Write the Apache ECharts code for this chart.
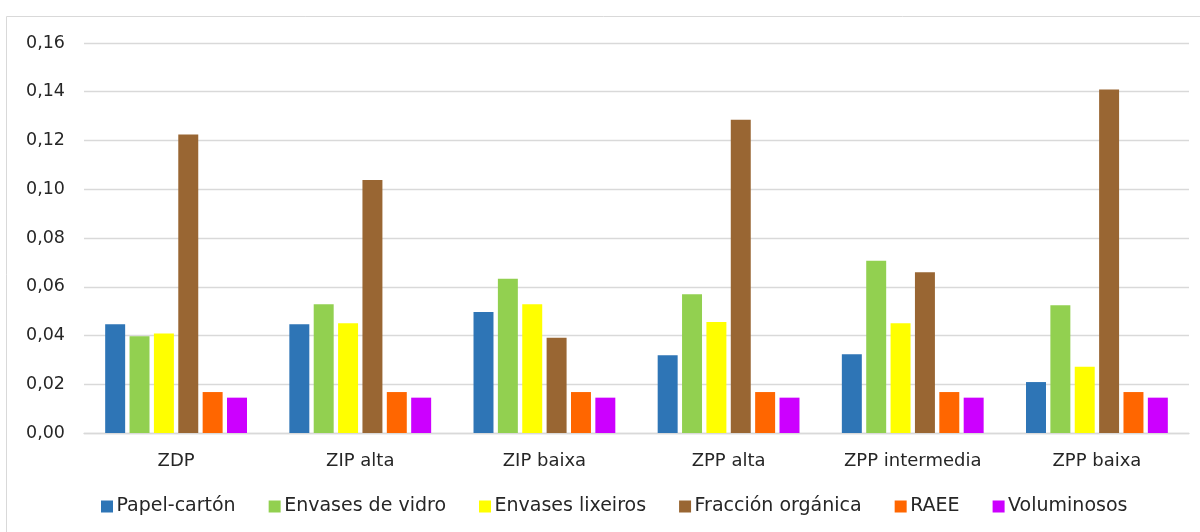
<!DOCTYPE html>
<html>
<head>
<meta charset="utf-8">
<script src="https://cdn.jsdelivr.net/npm/echarts@6/dist/echarts.min.js"></script>
<style>
  html, body { margin: 0; padding: 0; background: #fff; }
  #main { width: 1200px; height: 532px; }
</style>
</head>
<body>
<div id="main"></div>
<script>
// categorías (zonas)
var zonas = ["ZDP", "ZIP alta", "ZIP baixa", "ZPP alta", "ZPP intermedia", "ZPP baixa"];

// valores por fracción
var papelCarton = [0.0446, 0.0446, 0.0496, 0.0319, 0.0323, 0.0209];
var envasesVidro = [0.0397, 0.0528, 0.0633, 0.0569, 0.0707, 0.0524];
var envasesLixeiros = [0.0408, 0.0450, 0.0528, 0.0455, 0.0450, 0.0272];
var fraccionOrganica = [0.1225, 0.1038, 0.0391, 0.1285, 0.0660, 0.1409];
var raee = [0.0168, 0.0168, 0.0168, 0.0168, 0.0168, 0.0168];
var voluminosos = [0.0145, 0.0145, 0.0145, 0.0145, 0.0145, 0.0145];

var nomes = ["Papel-cartón", "Envases de vidro", "Envases lixeiros", "Fracción orgánica", "RAEE", "Voluminosos"];
var cores = ["#2E75B6", "#92D050", "#FFFF00", "#996633", "#FF6600", "#CC00FF"];
var datos = [papelCarton, envasesVidro, envasesLixeiros, fraccionOrganica, raee, voluminosos];

var myChart = echarts.init(document.getElementById("main"));
var fonte = "'DejaVu Sans', sans-serif";

myChart.setOption({
  animation: false,
  color: cores,
  textStyle: { fontFamily: fonte },
  graphic: [
    {
      // marco exterior do gráfico
      type: "rect",
      shape: { x: 6.5, y: 16.5, width: 1400, height: 700 },
      style: { fill: "none", stroke: "#d9d9d9", lineWidth: 1 },
      silent: true
    }
  ],
  grid: {
    left: 84,
    right: 11,
    top: 43,
    bottom: 99,
    containLabel: false
  },
  legend: {
    top: 497,
    left: 101,
    padding: 0,
    icon: "rect",
    itemWidth: 12,
    itemHeight: 12,
    itemGap: 33,
    textStyle: { color: "#262626", fontSize: 19, fontFamily: fonte, padding: [0, 0, 0, -1.5] },
    data: nomes
  },
  xAxis: {
    type: "category",
    data: zonas,
    axisTick: { show: false },
    axisLine: { lineStyle: { color: "#d9d9d9", width: 1.3 } },
    axisLabel: { color: "#262626", fontSize: 18, margin: 19, fontFamily: fonte }
  },
  yAxis: {
    type: "value",
    min: 0,
    max: 0.16,
    interval: 0.02,
    axisLine: { show: false },
    axisTick: { show: false },
    splitLine: { lineStyle: { color: "#d9d9d9", width: 1.3 } },
    axisLabel: {
      color: "#262626",
      fontSize: 17.5,
      margin: 19,
      fontFamily: fonte,
      formatter: function (v) { return v.toFixed(2).replace(".", ","); }
    }
  },
  series: nomes.map(function (n, i) {
    return {
      name: n,
      type: "bar",
      data: datos[i],
      barGap: "22%",
      barCategoryGap: "23%",
      itemStyle: { color: cores[i] }
    };
  })
});
</script>
</body>
</html>
